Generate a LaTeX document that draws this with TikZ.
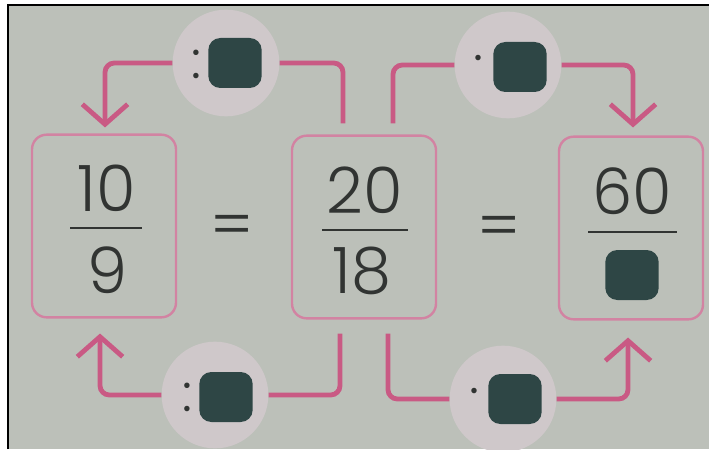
\documentclass[tikz,border=0pt]{standalone}
\usepackage{fontspec}
\setmainfont{Poppins}[UprightFont=* Light]
\usepackage{tikz}
\usetikzlibrary{arrows.meta,calc,positioning}
\definecolor{Pink}{HTML}{C95A84}
\definecolor{PinkBox}{HTML}{D283A2}
\definecolor{PinkLight}{HTML}{CFC8CA}
\definecolor{Slate}{HTML}{2E4645}
\definecolor{Ink}{HTML}{313432}
\definecolor{Paper}{HTML}{BCC0B9}

\begin{document}
\begin{tikzpicture}[x=.75pt,y=-.75pt,
    fracbox/.style={draw=PinkBox,line width=1.8pt,rounded corners=11pt,minimum width=108pt,minimum height=137pt},
    opdisc/.style={circle,fill=PinkLight,minimum size=80pt,inner sep=0pt},
    blank/.style={fill=Slate,rounded corners=9pt,minimum width=40pt,minimum height=37.5pt,inner sep=0pt},
    flow/.style={Pink,line width=3.6pt,rounded corners=7pt},
    tip/.style={-{Straight Barb[length=15pt,width=34pt]}},
    digits/.style={Ink,inner sep=0pt,font=\fontsize{48}{50}\selectfont},
    sign/.style={Ink,inner sep=0pt,font=\fontsize{40}{40}\selectfont}]
      \useasboundingbox (0,0) rectangle (709,449);
      \fill[white] (0,0) rectangle (709,449);
      \fill[Paper] (8,5) rectangle (709,449);
      \draw[black,line width=1.5pt] (8,449)--(8,5)--(709,5);
      % the three fractions
      \node[fracbox] (left) at (104,226){};
      \node[fracbox] (mid) at (364,227){};
      \node[fracbox] (right) at (631,228){};
      \node[digits] (numL) at (107,188){10};
      \draw[Ink,line width=2pt] (70,228)--(142,228);
      \node[digits] (denL) at (107,270){9};
      \node[digits] (numM) at (365,190){20};
      \draw[Ink,line width=2pt] (322,230)--(408,230);
      \node[digits] (denM) at (362,271){18};
      \node[digits] (numR) at (632,191){60};
      \draw[Ink,line width=2pt] (588,232)--(677,232);
      \node[blank] (denR) at (632,275){};
      \node[digits] (eqA) at (232,231){=};
      \node[digits] (eqB) at (499,232){=};
      % operators
      \node[opdisc] (opTL) at (226,63){};
      \node[blank] (sqTL) at (235,63){};
      \node[sign] (dotTL) at (196,64){:};
      \node[opdisc] (opTR) at (508,65){};
      \node[blank] (sqTR) at (520,67){};
      \node[sign] (dotTR) at (478,66){·};
      \node[opdisc] (opBL) at (215,395){};
      \node[blank] (sqBL) at (226,397){};
      \node[sign] (dotBL) at (187,397){:};
      \node[opdisc] (opBR) at (503,399){};
      \node[blank] (sqBR) at (515,399){};
      \node[sign] (dotBR) at (474,399){·};
      % connectors
      \draw[flow] ($(mid.north)+(-21,-11)$) |- (opTL);
      \draw[flow,tip] (opTL) -| ($(left.north)+(1,-6)$);
      \draw[flow] ($(mid.north)+(29,-11)$) |- (opTR);
      \draw[flow,tip] (opTR) -| ($(right.north)+(2,-8)$);
      \draw[flow] ($(mid.south)+(-24,14)$) |- (opBL);
      \draw[flow,tip] (opBL) -| ($(left.south)+(-4,15)$);
      \draw[flow] ($(mid.south)+(24,14)$) |- (opBR);
      \draw[flow,tip] (opBR) -| ($(right.south)+(-3,17)$);
    \end{tikzpicture}
\end{document}
